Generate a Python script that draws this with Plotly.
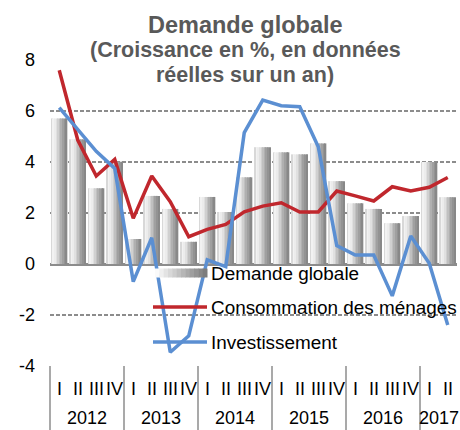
import plotly.graph_objects as go

years = ["2012"] * 4 + ["2013"] * 4 + ["2014"] * 4 + ["2015"] * 4 + ["2016"] * 4 + ["2017"] * 2
quarters = ["I", "II", "III", "IV"] * 5 + ["I", "II"]

demande = [5.71, 4.89, 2.97, 4.01, 0.98, 2.67, 2.16, 0.87, 2.63, 2.04, 3.40,
           4.58, 4.38, 4.30, 4.73, 3.25, 2.38, 2.16, 1.60, 1.88, 4.00, 2.62]
conso = [7.60, 4.86, 3.45, 4.10, 1.79, 3.45, 2.44, 1.07, 1.36, 1.55, 2.05,
         2.27, 2.40, 2.04, 2.04, 2.86, 2.67, 2.47, 3.03, 2.86, 3.01, 3.39]
invest = [6.13, 5.28, 4.42, 3.75, -0.69, 1.03, -3.46, -2.82, 0.16, -0.10, 5.15,
          6.43, 6.21, 6.17, 4.60, 0.72, 0.35, 0.35, -1.25, 1.10, 0.03, -2.39]

y_ticks = [-4, -2, 0, 2, 4, 6, 8]
y_ticktext = [str(v) for v in y_ticks]

names = ["Demande globale", "Consommation des ménages", "Investissement"]
title_lines = ["Demande globale", "(Croissance en %, en données", "réelles sur un an)"]

FONT = "Liberation Sans, Arial, sans-serif"
RED = "#c0272d"
BLUE = "#5b8fd2"
GRID = "#8c8c8c"

x = [years, quarters]
N = len(quarters)

# gradient shades for bars (left light -> right dark)
shades = ["#d8d8d8", "#f2f2f2", "#ececec", "#e0e0e0", "#d0d0d0", "#c0c0c0",
          "#b0b0b0", "#a0a0a0", "#939393", "#888888"]
bar_w = 0.86
n = len(shades)
sw = bar_w / n

fig = go.Figure()
for i, c in enumerate(shades):
    fig.add_trace(go.Bar(
        x=x, y=demande, name=names[0], width=sw * 1.08,
        offset=-bar_w / 2 + i * sw, marker=dict(color=c, line=dict(width=0)),
        showlegend=False, hoverinfo="skip" if i else None,
    ))

fig.add_trace(go.Scatter(x=x, y=conso, name=names[1], mode="lines",
                         line=dict(color=RED, width=3.5), showlegend=False))
fig.add_trace(go.Scatter(x=x, y=invest, name=names[2], mode="lines",
                         line=dict(color=BLUE, width=3.5), showlegend=False))

H = 306.0
def py(p):
    return (366.0 - p) / H

W = 407.0
def px(p):
    return (p - 50.0) / W

shapes = []
annotations = []

# two-level category axis labels and dividers
for i, q in enumerate(quarters):
    annotations.append(dict(text=q, xref="x domain", yref="paper", x=(i + 0.5) / N, y=py(388.5),
                            xanchor="center", yanchor="middle", showarrow=False,
                            font=dict(family=FONT, size=18, color="#000000")))
groups = []
for i, yv in enumerate(years):
    if not groups or groups[-1][0] != yv:
        groups.append([yv, i, i])
    else:
        groups[-1][2] = i
for yv, i0, i1 in groups:
    annotations.append(dict(text=yv, xref="x domain", yref="paper", x=(i0 + i1 + 1) / 2 / N, y=py(418),
                            xanchor="center", yanchor="middle", showarrow=False,
                            font=dict(family=FONT, size=18, color="#000000")))
    shapes.append(dict(type="line", xref="x domain", yref="paper", x0=i0 / N, x1=i0 / N,
                       y0=0, y1=py(431), line=dict(color=GRID, width=1.5)))

# legend symbol for bars (gradient)
lx0, lx1 = 155, 207
m = 12
for i in range(m):
    t = i / (m - 1)
    v = int(round(250 - t * (250 - 125)))
    col = f"rgb({v},{v},{v})"
    shapes.append(dict(type="rect", xref="paper", yref="paper", layer="above",
                       x0=px(lx0 + (lx1 - lx0) * i / m), x1=px(lx0 + (lx1 - lx0) * (i + 1) / m + 0.5),
                       y0=py(277.5), y1=py(268.5), fillcolor=col, line=dict(width=0)))
shapes.append(dict(type="line", xref="paper", yref="paper", layer="above",
                   x0=px(153), x1=px(207), y0=py(307), y1=py(307),
                   line=dict(color=RED, width=3.5)))
shapes.append(dict(type="line", xref="paper", yref="paper", layer="above",
                   x0=px(153), x1=px(207), y0=py(342), y1=py(342),
                   line=dict(color=BLUE, width=3.5)))

for name, yy in zip(names, [273, 307, 342]):
    annotations.append(dict(text=name, xref="paper", yref="paper", x=px(209), y=py(yy),
                            xanchor="left", yanchor="middle", showarrow=False,
                            font=dict(family=FONT, size=18.9, color="#000000")))
for txt, yy, sz in zip(title_lines, [25, 50, 74.5], [23.5, 21.5, 21.5]):
    annotations.append(dict(text=f"<b>{txt}</b>", xref="paper", yref="paper", x=px(245), y=py(yy),
                            xanchor="center", yanchor="middle", showarrow=False,
                            font=dict(family=FONT, size=sz, color="#595959")))

fig.update_layout(
    width=460, height=430,
    margin=dict(l=50, r=3, t=60, b=64),
    paper_bgcolor="white", plot_bgcolor="white",
    barmode="overlay", bargap=0.14,
    font=dict(family=FONT, size=18, color="#000000"),
    shapes=shapes, annotations=annotations,
    showlegend=False,
    xaxis=dict(type="multicategory", showgrid=False, showline=False, zeroline=False,
               automargin=False, showticklabels=False, showdividers=False, ticks=""),
    yaxis=dict(range=[-4, 8], tickmode="array", tickvals=y_ticks, ticktext=y_ticktext,
               showgrid=True, gridcolor=GRID, gridwidth=1.5,
               automargin=False,
               griddash="4px,2px", zeroline=True, zerolinecolor=GRID, zerolinewidth=2.5,
               showline=False, ticks="", ticklabelstandoff=14,
               tickfont=dict(family=FONT, size=18, color="#000000")),
)

fig.write_html("out.html", config={"displayModeBar": False},
               post_script="document.body.style.margin='0';document.body.style.padding='0';")
